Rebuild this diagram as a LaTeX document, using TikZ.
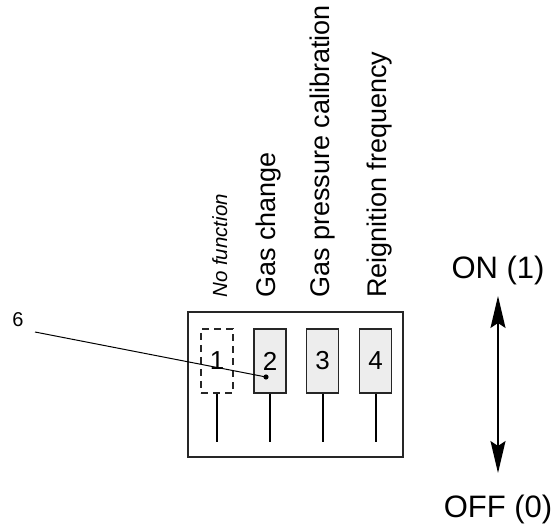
\documentclass[tikz,border=0pt]{standalone}
\usepackage{fontspec}
\setmainfont{Liberation Sans}
\usetikzlibrary{arrows.meta}
\begin{document}
\begin{tikzpicture}[x=1pt,y=-1pt,
  swbox/.style={draw=black!85, line width=1.2pt, fill=black!7, minimum width=32pt, minimum height=64pt, inner sep=0pt, font=\fontsize{26}{30}\selectfont},
  swempty/.style={draw=black!85, line width=1.2pt, dash pattern=on 7pt off 5pt, minimum width=32pt, minimum height=64pt, inner sep=0pt, font=\fontsize{26}{30}\selectfont},
  stem/.style={line width=2pt, black},
  lab/.style={rotate=90, anchor=base west, inner sep=0pt, font=\fontsize{27}{30}\selectfont},
  state/.style={anchor=base, inner sep=0pt, font=\fontsize{31}{36}\selectfont}]
\useasboundingbox (0,0) rectangle (558,524);
% housing
\node[draw=black!85, line width=1.3pt, minimum width=215pt, minimum height=145pt, inner sep=0pt] (housing) at (295.5,384.5) {};
% switches
\node[swempty] (s1) at (217,361) {1};
\node[swbox] (s2) at (270,361) {2};
\node[swbox] (s3) at (322.5,361) {3};
\node[swbox] (s4) at (375.5,361) {4};
\foreach \i in {1,2,3,4} {
  \coordinate (e\i) at ([yshift=-48pt]s\i.south);
  \draw[stem] (s\i.south) -- (e\i);
}
% labels
\node[lab, font=\fontsize{20.5}{24}\selectfont\itshape] (l1) at (227,298) {No function};
\node[lab] (l2) at (275,298) {Gas change};
\node[lab] (l3) at (329,298) {Gas pressure calibration};
\node[lab] (l4) at (386,298) {Reignition frequency};
% callout
\node[inner sep=0pt, font=\fontsize{20}{24}\selectfont] (n6) at (18,320) {6};
\coordinate (c6) at (35,332);
\fill (266,377) circle (2.6pt) coordinate (dot);
\draw[line width=1pt] (c6) -- (dot);
% ON / OFF
\node[state] (on) at (498,279) {ON (1)};
\node[state] (off) at (498,517) {OFF (0)};
\coordinate (atop) at (498,296);
\coordinate (abot) at (498,473);
\draw[line width=1.6pt, {Stealth[length=32pt,width=15pt,inset=5pt]}-{Stealth[length=32pt,width=15pt,inset=5pt]}] (atop) -- (abot);
\end{tikzpicture}
\end{document}
